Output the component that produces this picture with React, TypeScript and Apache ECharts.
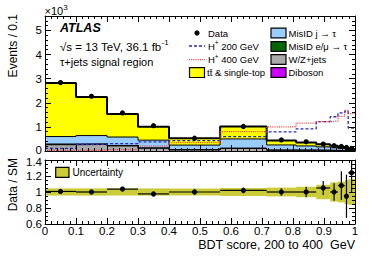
import React, { useEffect, useRef } from 'react';
import * as echarts from 'echarts';

const FONT = "'Liberation Sans', Arial, Helvetica, sans-serif";

// Bin edges of the BDT score histogram
const binEdges = [0, 0.1, 0.2, 0.3, 0.4, 0.565, 0.715, 0.81, 0.875, 0.92, 0.945, 0.967, 0.978, 1];

// Stacked backgrounds (Events / 0.1, x10^3), bottom to top
const diboson = [0.01, 0.01, 0.01, 0.005, 0.005, 0.005, 0.003, 0.003, 0.002, 0.002, 0.001, 0.001, 0.001];
const wzJets = [0.25, 0.26, 0.2, 0.11, 0.04, 0.1, 0.03, 0.03, 0.025, 0.02, 0.015, 0.012, 0.008];
const misidEMu = [0.03, 0.03, 0.02, 0.015, 0.01, 0.015, 0.008, 0.007, 0.005, 0.005, 0.004, 0.003, 0.002];
const misidJet = [0.31, 0.34, 0.35, 0.32, 0.19, 0.38, 0.21, 0.17, 0.14, 0.11, 0.08, 0.06, 0.04];
const ttbarSingleTop = [2.22, 1.6, 0.96, 0.56, 0.28, 0.52, 0.18, 0.14, 0.11, 0.08, 0.07, 0.055, 0.03];

// Data
const dataValues = [2.84, 2.27, 1.58, 1.05, 0.53, 1.02, 0.46, 0.38, 0.29, 0.22, 0.19, 0.15, 0.11];
const dataErrors = [0.05, 0.05, 0.04, 0.03, 0.02, 0.03, 0.02, 0.025, 0.025, 0.025, 0.035, 0.04, 0.03];

// Signal hypotheses (not stacked)
const hPlus200 = [0.11, 0.28, 0.31, 0.38, 0.43, 0.6, 0.79, 0.92, 1.22, 1.42, 1.58, 1.65, 0.95];
const hPlus400 = [0.02, 0.03, 0.06, 0.2, 0.35, 0.8, 1.0, 1.16, 1.22, 1.24, 1.44, 1.68, 1.55];

// Ratio panel
const ratioValues = [1.007, 1.0, 1.036, 0.976, 1.0, 1.02, 1.0, 1.0, 1.05, 1.0, 1.08, 0.947, 1.24];
const ratioErrors = [0.02, 0.02, 0.025, 0.03, 0.035, 0.035, 0.046, 0.065, 0.087, 0.11, 0.18, 0.27, 0.24];
const uncertaintyBand = [0.045, 0.045, 0.045, 0.045, 0.045, 0.05, 0.055, 0.065, 0.09, 0.12, 0.13, 0.15, 0.16];

const BAND_COLOR = '#cccc3a';
const TICK_FS = 11.5;

let measureCtx: CanvasRenderingContext2D | null = null;
function textWidth(s: string, size: number, weight = 'normal', style = 'normal') {
  if (!measureCtx) measureCtx = document.createElement('canvas').getContext('2d');
  if (!measureCtx) return s.length * size * 0.55;
  measureCtx.font = `${style} ${weight} ${size}px ${FONT}`;
  return measureCtx.measureText(s).width;
}

function txt(x: number, y: number, text: string, size: number, extra: any = {}) {
  return {
    type: 'text',
    x,
    y,
    z: 100,
    silent: true,
    style: {
      text,
      fill: '#000',
      fontSize: size,
      fontFamily: FONT,
      align: 'left',
      verticalAlign: 'middle',
      ...extra,
    },
  };
}

// pieces: [text, isSuperscript]
function richLine(x: number, y: number, pieces: [string, boolean][], size: number, supSize: number, supRaise: number) {
  const els: any[] = [];
  let cx = x;
  for (const [t, sup] of pieces) {
    const s = sup ? supSize : size;
    els.push(txt(cx, sup ? y - supRaise : y, t, s));
    cx += textWidth(t, s);
  }
  return els;
}

function xAxisCfg(gridIndex: number, position: string, showLabels: boolean) {
  return {
    type: 'value',
    gridIndex,
    position,
    min: 0,
    max: 1,
    interval: 0.1,
    z: 10,
    axisLine: { show: true, onZero: false, lineStyle: { color: '#000', width: 1 } },
    axisTick: { show: true, inside: true, length: 6, lineStyle: { color: '#000', width: 1 } },
    minorTick: { show: true, splitNumber: 5, length: 3, lineStyle: { color: '#000', width: 1 } },
    splitLine: { show: false },
    axisLabel: {
      show: showLabels,
      color: '#000',
      fontFamily: FONT,
      fontSize: TICK_FS,
      margin: 2,
      lineHeight: 10,
      formatter: (v: number) => String(Math.round(v * 10) / 10),
    },
  };
}

function yAxisCfg(gridIndex: number, position: string, showLabels: boolean, min: number, max: number, interval: number, minorSplit: number) {
  const upper = gridIndex === 0;
  return {
    type: 'value',
    gridIndex,
    position,
    min,
    max,
    interval,
    z: 10,
    axisLine: { show: true, onZero: false, lineStyle: { color: '#000', width: 1 } },
    axisTick: { show: true, inside: true, length: 6, lineStyle: { color: '#000', width: 1 } },
    minorTick: { show: true, splitNumber: minorSplit, length: 3, lineStyle: { color: '#000', width: 1 } },
    splitLine: { show: false },
    axisLabel: {
      show: showLabels,
      color: '#000',
      fontFamily: FONT,
      fontSize: TICK_FS,
      lineHeight: 9,
      margin: 3,
      showMaxLabel: upper ? false : true,
      formatter: (v: number) => {
        const s = String(Math.round(v * 10) / 10);
        if (upper && v === 0) return '{hi|' + s + '}';
        if (!upper && Math.abs(v - 1.4) < 1e-6) return '{lo|' + s + '}';
        return s;
      },
      rich: {
        hi: { fontFamily: FONT, fontSize: TICK_FS, color: '#000', lineHeight: 9, padding: [0, 0, 2, 0] },
        lo: { fontFamily: FONT, fontSize: TICK_FS, color: '#000', lineHeight: 9, padding: [3, 0, 0, 0] },
      },
    },
  };
}

function rectSeries(name: string, color: string, bottoms: number[], tops: number[], xi: number, yi: number, z: number) {
  return {
    type: 'custom',
    name,
    coordinateSystem: 'cartesian2d',
    xAxisIndex: xi,
    yAxisIndex: yi,
    z,
    clip: true,
    silent: true,
    data: tops.map((t, i) => [binEdges[i], binEdges[i + 1], bottoms[i], t]),
    encode: { x: [0, 1], y: [2, 3] },
    renderItem: (params: any, api: any) => {
      const a = api.coord([api.value(0), api.value(3)]);
      const b = api.coord([api.value(1), api.value(2)]);
      return {
        type: 'rect',
        shape: { x: a[0], y: a[1], width: b[0] - a[0] + 0.4, height: b[1] - a[1] },
        style: { fill: color },
      };
    },
  };
}

function stepSeries(name: string, values: number[], color: string, width: number, type: any, z: number) {
  return {
    type: 'line',
    name,
    step: 'end',
    xAxisIndex: 0,
    yAxisIndex: 0,
    z,
    silent: true,
    symbol: 'none',
    clip: true,
    lineStyle: { color, width, type },
    data: binEdges.map((e, i) => [e, values[Math.min(i, values.length - 1)]]),
  };
}

function pointsSeries(name: string, values: number[], errors: number[], xi: number, yi: number, horiz: boolean, z: number) {
  return {
    type: 'custom',
    name,
    coordinateSystem: 'cartesian2d',
    xAxisIndex: xi,
    yAxisIndex: yi,
    z,
    clip: true,
    silent: true,
    data: values.map((v, i) => [binEdges[i], binEdges[i + 1], (binEdges[i] + binEdges[i + 1]) / 2, v, errors[i]]),
    encode: { x: 2, y: 3 },
    renderItem: (params: any, api: any) => {
      const x0 = api.value(0), x1 = api.value(1), xc = api.value(2), y = api.value(3), e = api.value(4);
      const c = api.coord([xc, y]);
      const up = api.coord([xc, y + e]);
      const dn = api.coord([xc, y - e]);
      const children: any[] = [
        { type: 'line', shape: { x1: up[0], y1: up[1], x2: dn[0], y2: dn[1] }, style: { stroke: '#000', lineWidth: 1.2 } },
      ];
      if (horiz) {
        const a = api.coord([x0, y]);
        const b = api.coord([x1, y]);
        children.push({ type: 'line', shape: { x1: a[0], y1: a[1], x2: b[0], y2: b[1] }, style: { stroke: '#000', lineWidth: 1.2 } });
      }
      children.push({ type: 'circle', shape: { cx: c[0], cy: c[1], r: 2.6 }, style: { fill: '#000' } });
      return { type: 'group', children };
    },
  };
}

function buildOption() {
  const components = [
    { name: 'Diboson', values: diboson, color: '#cc00ff' },
    { name: 'W/Z+jets', values: wzJets, color: '#aaaaaa' },
    { name: 'MisID e/μ → τ', values: misidEMu, color: '#006600' },
    { name: 'MisID j → τ', values: misidJet, color: '#99ccff' },
    { name: 'tt̄ & single-top', values: ttbarSingleTop, color: '#ffff00' },
  ];

  const series: any[] = [];
  let prev = binEdges.slice(0, -1).map(() => 0);
  const levels: number[][] = [];
  components.forEach((c) => {
    const top = prev.map((p, i) => p + c.values[i]);
    series.push(rectSeries(c.name, c.color, prev, top, 0, 0, 2));
    levels.push(top);
    prev = top;
  });
  levels.forEach((lv, k) => {
    if (k === 0) return;
    series.push(stepSeries('outline' + k, lv, '#000', k === levels.length - 1 ? 2 : 1, 'solid', 3));
  });
  series.push(stepSeries('H+ 200 GeV', hPlus200, '#2a2ab8', 1.3, [3, 2], 4));
  series.push(stepSeries('H+ 400 GeV', hPlus400, '#ee3333', 1.3, [1, 1.2], 4));
  series.push(pointsSeries('Data', dataValues, dataErrors, 0, 0, false, 5));

  // ratio panel
  series.push(
    rectSeries(
      'Uncertainty',
      BAND_COLOR,
      uncertaintyBand.map((u) => 1 - u),
      uncertaintyBand.map((u) => 1 + u),
      2,
      2,
      2,
    ),
  );
  series.push(pointsSeries('Data / SM', ratioValues, ratioErrors, 2, 2, true, 5));

  // Graphic texts & legend
  const g: any[] = [];
  g.push(...richLine(44.5, 11, [['×10', false], ['3', true]], 11, 8, 4));
  g.push(txt(13, 14, 'Events / 0.1', 12, { align: 'right' }));
  g[g.length - 1].rotation = Math.PI / 2;
  g.push(txt(13, 158, 'Data / SM', 12, { align: 'right' }));
  g[g.length - 1].rotation = Math.PI / 2;
  g.push(txt(355, 244.5, 'BDT score, 200 to 400  GeV', 12.5, { align: 'right' }));

  g.push(txt(60, 27.5, 'ATLAS', 12.5, { fontWeight: 'bold', fontStyle: 'italic' }));
  g.push(...richLine(60, 47, [['√s = 13 TeV, 36.1 fb', false], ['-1', true]], 11.5, 8, 4.5));
  g.push(txt(60, 62, 'τ+jets signal region', 11));

  const LF = 9.5;
  // column 1
  g.push({ type: 'circle', z: 100, silent: true, shape: { cx: 197, cy: 33, r: 2.6 }, style: { fill: '#000' } });
  g.push(txt(208, 33, 'Data', LF));
  g.push({ type: 'line', z: 100, silent: true, shape: { x1: 189, y1: 46, x2: 205, y2: 46 }, style: { stroke: '#2a2ab8', lineWidth: 1.3, lineDash: [3, 2] } });
  g.push(...richLine(208, 46, [['H', false], ['+', true], [' 200 GeV', false]], LF, 6.5, 3.5));
  g.push({ type: 'line', z: 100, silent: true, shape: { x1: 189, y1: 59.7, x2: 205, y2: 59.7 }, style: { stroke: '#ee3333', lineWidth: 1.3, lineDash: [1, 1.2] } });
  g.push(...richLine(208, 59.7, [['H', false], ['+', true], [' 400 GeV', false]], LF, 6.5, 3.5));
  g.push({ type: 'rect', z: 100, silent: true, shape: { x: 189.5, y: 67.7, width: 15, height: 9.8 }, style: { fill: '#ffff00', stroke: '#000', lineWidth: 1.2 } });
  g.push(txt(207, 72.5, 'tt\u0304 & single-top', LF));

  // column 2
  const col2: [string, string, number][] = [
    ['MisID j → τ', '#99ccff', 33],
    ['MisID e/μ → τ', '#006600', 46.5],
    ['W/Z+jets', '#aaaaaa', 59.5],
    ['Diboson', '#cc00ff', 72.5],
  ];
  col2.forEach(([label, color, y]) => {
    g.push({ type: 'rect', z: 100, silent: true, shape: { x: 271, y: y - 4.9, width: 15, height: 9.8 }, style: { fill: color, stroke: '#000', lineWidth: 1.2 } });
    g.push(txt(288.5, y, label, LF));
  });

  // ratio legend
  g.push({ type: 'rect', z: 100, silent: true, shape: { x: 55.7, y: 167.3, width: 13.3, height: 10 }, style: { fill: BAND_COLOR, stroke: '#000', lineWidth: 1.2 } });
  g.push(txt(72.5, 172.3, 'Uncertainty', 10));

  return {
    animation: false,
    backgroundColor: '#ffffff',
    textStyle: { fontFamily: FONT },
    grid: [
      { left: 45, top: 16, width: 310, height: 135 },
      { left: 45, top: 160, width: 310, height: 64 },
    ],
    xAxis: [
      xAxisCfg(0, 'bottom', false),
      xAxisCfg(0, 'top', false),
      xAxisCfg(1, 'bottom', true),
      xAxisCfg(1, 'top', false),
    ],
    yAxis: [
      yAxisCfg(0, 'left', true, 0, 5.6, 1, 5),
      yAxisCfg(0, 'right', false, 0, 5.6, 1, 5),
      yAxisCfg(1, 'left', true, 0.6, 1.4, 0.2, 4),
      yAxisCfg(1, 'right', false, 0.6, 1.4, 0.2, 4),
    ],
    series,
    graphic: g,
  };
}

export default function App() {
  const ref = useRef<HTMLDivElement>(null);
  useEffect(() => {
    if (!ref.current) return;
    const chart = echarts.init(ref.current, undefined, { renderer: 'svg' });
    chart.setOption(buildOption() as any);
    return () => chart.dispose();
  }, []);
  return (
    <div
      ref={ref}
      style={{ position: 'fixed', left: 0, top: 0, width: 374, height: 268, background: '#fff' }}
    />
  );
}
